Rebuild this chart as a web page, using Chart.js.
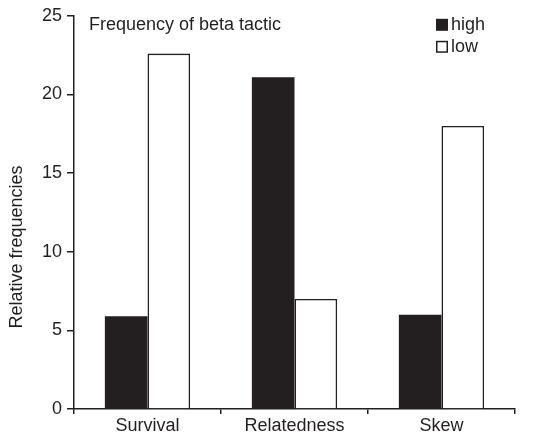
<!DOCTYPE html>
<html>
<head>
<meta charset="utf-8">
<script src="https://cdn.jsdelivr.net/npm/chart.js@4/dist/chart.umd.min.js"></script>
<style>
  html, body { margin: 0; padding: 0; background: #fff; }
  #wrap { width: 538px; height: 436px; }
</style>
</head>
<body>
<div id="wrap"><canvas id="ctx" width="538" height="436"></canvas></div>
<script>
// data
const categories = ['Survival', 'Relatedness', 'Skew'];
const highValues = [5.9, 21.1, 6.0];
const lowValues = [22.6, 7.0, 18.0];
const yTicks = [0, 5, 10, 15, 20, 25];
const chartTitle = 'Frequency of beta tactic';
const yTitle = 'Relative frequencies';

const ink = '#231f20';
const fontFamily = '"Liberation Sans", Arial, sans-serif';
const fontSize = 18;

// title, y title and legend drawn by hand (the y title sits below centre in the original)
const overlay = {
    id: 'overlay',
    afterDraw(chart) {
        const c = chart.ctx, area = chart.chartArea;
        c.save();
        c.font = fontSize + 'px ' + fontFamily;
        c.fillStyle = ink;
        c.textBaseline = 'middle';
        c.textAlign = 'left';
        c.fillText(chartTitle, area.left + 15, area.top + 9);

        c.save();
        c.translate(17, 247);
        c.rotate(-Math.PI / 2);
        c.textAlign = 'center';
        c.fillText(yTitle, 0, 0);
        c.restore();

        let x = area.left + 362, y = area.top + 9;
        chart.data.datasets.forEach((ds, i) => {
            const yy = y + i * 22;
            c.fillStyle = ds.backgroundColor;
            c.fillRect(x, yy - 6, 12, 12);
            if (ds.backgroundColor === '#ffffff') {
                c.strokeStyle = ink;
                c.lineWidth = 1.5;
                c.strokeRect(x + 0.75, yy - 5.25, 10.5, 10.5);
            }
            c.fillStyle = ink;
            c.fillText(ds.label, x + 15, yy);
        });
        c.restore();
    }
};

new Chart(document.getElementById('ctx'), {
    type: 'bar',
    data: {
        labels: categories,
        datasets: [
            {
                label: 'high',
                data: highValues,
                backgroundColor: ink,
                borderColor: ink,
                borderWidth: 0
            },
            {
                label: 'low',
                data: lowValues,
                backgroundColor: '#ffffff',
                borderColor: ink,
                borderWidth: 1.6
            }
        ]
    },
    options: {
        responsive: false,
        animation: false,
        events: [],
        layout: { padding: { top: 15, right: 23, left: 0, bottom: 0 } },
        plugins: {
            legend: { display: false },
            tooltip: { enabled: false }
        },
        datasets: {
            bar: { categoryPercentage: 0.58, barPercentage: 1.0 }
        },
        scales: {
            x: {
                offset: true,
                grid: {
                    offset: true,
                    drawOnChartArea: false,
                    drawTicks: true,
                    tickLength: 5,
                    color: ink,
                    lineWidth: 1.5
                },
                border: { display: true, color: ink, width: 1.5 },
                ticks: {
                    color: ink,
                    font: { family: fontFamily, size: fontSize },
                    padding: 1,
                    maxRotation: 0
                },
                afterFit: s => { s.height = 27; }
            },
            y: {
                min: 0,
                max: 25,
                afterBuildTicks: s => { s.ticks = yTicks.map(v => ({ value: v })); },
                grid: {
                    drawOnChartArea: false,
                    drawTicks: true,
                    tickLength: 7,
                    color: ink,
                    lineWidth: 1.5
                },
                border: { display: true, color: ink, width: 1.5 },
                ticks: {
                    color: ink,
                    font: { family: fontFamily, size: fontSize },
                    padding: 5
                },
                afterFit: s => { s.width = 74; }
            }
        }
    },
    plugins: [overlay]
});
</script>
</body>
</html>
